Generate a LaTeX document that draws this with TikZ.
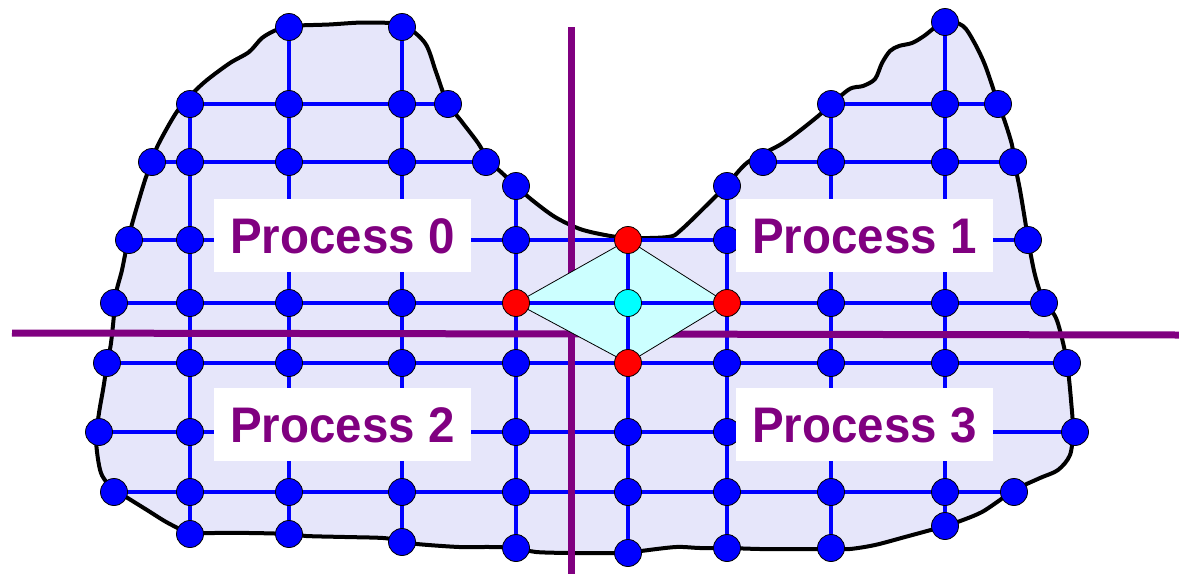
\documentclass[tikz,border=0pt]{standalone}
\usepackage{fontspec}
\setmainfont{Liberation Sans}
\definecolor{lav}{RGB}{230,230,250}
\definecolor{dia}{RGB}{204,255,255}
\definecolor{pur}{RGB}{128,0,128}
\definecolor{cyn}{RGB}{0,255,255}
\definecolor{blu}{RGB}{0,0,255}
\definecolor{rd}{RGB}{255,0,0}
\newcommand{\ptext}[1]{\scalebox{0.95}[1]{#1}}
\pgfdeclarelayer{region}
\pgfdeclarelayer{grid}
\pgfdeclarelayer{divide}
\pgfdeclarelayer{diam}
\pgfdeclarelayer{grid2}
\pgfdeclarelayer{labels}
\pgfsetlayers{region,grid,divide,diam,grid2,main,labels}
\begin{document}
\begin{tikzpicture}[x=1pt,y=-1pt,
  gn/.style={circle,draw=black,line width=0.8pt,fill=blu,minimum size=27pt,inner sep=0pt},
  rn/.style={gn,fill=rd},
  cn/.style={gn,fill=cyn},
  gridline/.style={blu,line width=3.5pt},
  divider/.style={pur,line width=7pt},
  lbl/.style={fill=white,text=pur,font=\fontsize{50}{60}\selectfont\bfseries,minimum width=257pt,minimum height=73pt,inner sep=0pt,text height=36pt,text depth=0pt}]
\useasboundingbox (0,0) rectangle (1179,574);

% blue nodes
\foreach \n/\x/\y in {
  a1/190/104, b1/289/104, c1/402/104, g1/831/104, h1/945/104,
  a2/190/162, b2/289/162, c2/402/162, g2/831/162, h2/945/162,
  a3/190/240, d3/516/240, f3/727/240,
  a4/190/303, b4/289/303, c4/402/303, g4/831/303, h4/945/303,
  a5/190/363, b5/289/363, c5/402/363, d5/516/363, f5/727/363, g5/831/363, h5/945/363,
  a6/190/432, d6/516/432, e6/628/432, f6/727/432,
  a7/190/492, b7/289/492, c7/402/492, d7/516/492, e7/628/492, f7/727/492, g7/831/492, h7/945/492,
  bt/289/27, ct/402/27, ht/945/22,
  l1/448/104, l2/152/162, m2/486/162, dt/516/186,
  r1/998/104, q2/763/162, r2/1013/162, ft/727/186,
  l3/129/240, r3/1028/240, l4/114/303, r4/1044/303,
  l5/107/363, r5/1067/363, l6/99/432, r6/1075/432,
  l7/114/492, r7/1014/492,
  ab/190/534, bb/289/534, cb/402/542, db/516/548,
  eb/628/553, fb/727/548, gb/831/548, hb/945/526}
  {\node[gn] (\n) at (\x,\y) {};}
\node[rn] (e3) at (628,240) {};
\node[rn] (d4) at (516,303) {};
\node[rn] (f4) at (727,303) {};
\node[rn] (e5) at (628,363) {};
\node[cn] (e4) at (628,303) {};

\begin{pgfonlayer}{region}
\draw[fill=lav,line width=4pt,line join=round] plot[smooth cycle,tension=0.5] coordinates {
 (289,26) (329,24.5) (365,22.5) (402,25) (425,43) (436,72) (447,102) (462,122)
 (478,143) (489,161) (501,172) (516,186) (532,200) (555,217) (580,229) (605,235)
 (628,238) (668,237) (681,230) (714,198) (727,185) (748,162) (783,143) (817,117)
 (848,90) (863,86) (875,79) (882,63) (890,51) (899,46) (912,43) (924,36)
 (945,21) (963,26) (974,42) (985,65) (997,100) (1005,122) (1012,145) (1015,165)
 (1020,190) (1025,220) (1029,245) (1035,275) (1043,299) (1056,318) (1064,347)
 (1068,370) (1071,400) (1073,430) (1070,455) (1058,470) (1040,478) (1014,490)
 (1000,500) (982,512) (963,520) (945,526) (905,537) (875,545) (850,549) (831,549)
 (790,549) (760,549) (727,548) (700,548) (676,547) (641,551) (628,553) (600,553)
 (570,553) (536,552) (516,548) (490,547) (459,547) (417,544) (402,541) (383,538)
 (345,537) (306,536) (289,534) (250,533) (210,533) (190,533) (168,523) (147,510)
 (126,497) (114,490) (101,473) (96,440) (99,413) (103,390) (107,365) (111,343)
 (114,315) (116,293) (122,270) (128,240) (134,217) (145,180) (152,162) (158,145)
 (176,113) (192,94) (207,80) (230,63) (249,52) (262,38) (276,30)};
\end{pgfonlayer}

\begin{pgfonlayer}{grid}
% vertical
\draw[gridline] (a1.center) -- (ab.center);
\draw[gridline] (bt.center) -- (bb.center);
\draw[gridline] (ct.center) -- (cb.center);
\draw[gridline] (dt.center) -- (db.center);
\draw[gridline] (e3.center) -- (eb.center);
\draw[gridline] (ft.center) -- (fb.center);
\draw[gridline] (g1.center) -- (gb.center);
\draw[gridline] (ht.center) -- (hb.center);
% horizontal
\draw[gridline] (a1.center) -- (l1.center);
\draw[gridline] (g1.center) -- (r1.center);
\draw[gridline] (l2.center) -- (m2.center);
\draw[gridline] (q2.center) -- (r2.center);
\draw[gridline] (l3.center) -- (r3.center);
\draw[gridline] (l4.center) -- (r4.center);
\draw[gridline] (l5.center) -- (r5.center);
\draw[gridline] (l6.center) -- (r6.center);
\draw[gridline] (l7.center) -- (r7.center);
\end{pgfonlayer}

\begin{pgfonlayer}{divide}
\coordinate (hl) at (12,333);
\coordinate (hr) at (1179,335);
\coordinate (vt) at (571,27);
\coordinate (vb) at (571,574);
\draw[divider] (hl) -- (hr);
\draw[divider] (vt) -- (vb);
\end{pgfonlayer}

\begin{pgfonlayer}{diam}
\draw[fill=dia,line width=0.8pt] (e3.center) -- (d4.center) -- (e5.center) -- (f4.center) -- cycle;
\end{pgfonlayer}

\begin{pgfonlayer}{grid2}
\draw[gridline] (d4.center) -- (f4.center);
\draw[gridline] (e3.center) -- (e5.center);
\end{pgfonlayer}

\begin{pgfonlayer}{labels}
\node[lbl] (p0) at (342.5,235.5) {\ptext{Process 0}};
\node[lbl] (p1) at (864.5,235.5) {\ptext{Process 1}};
\node[lbl] (p2) at (342.5,424.5) {\ptext{Process 2}};
\node[lbl] (p3) at (864.5,424.5) {\ptext{Process 3}};
\end{pgfonlayer}
\end{tikzpicture}
\end{document}
